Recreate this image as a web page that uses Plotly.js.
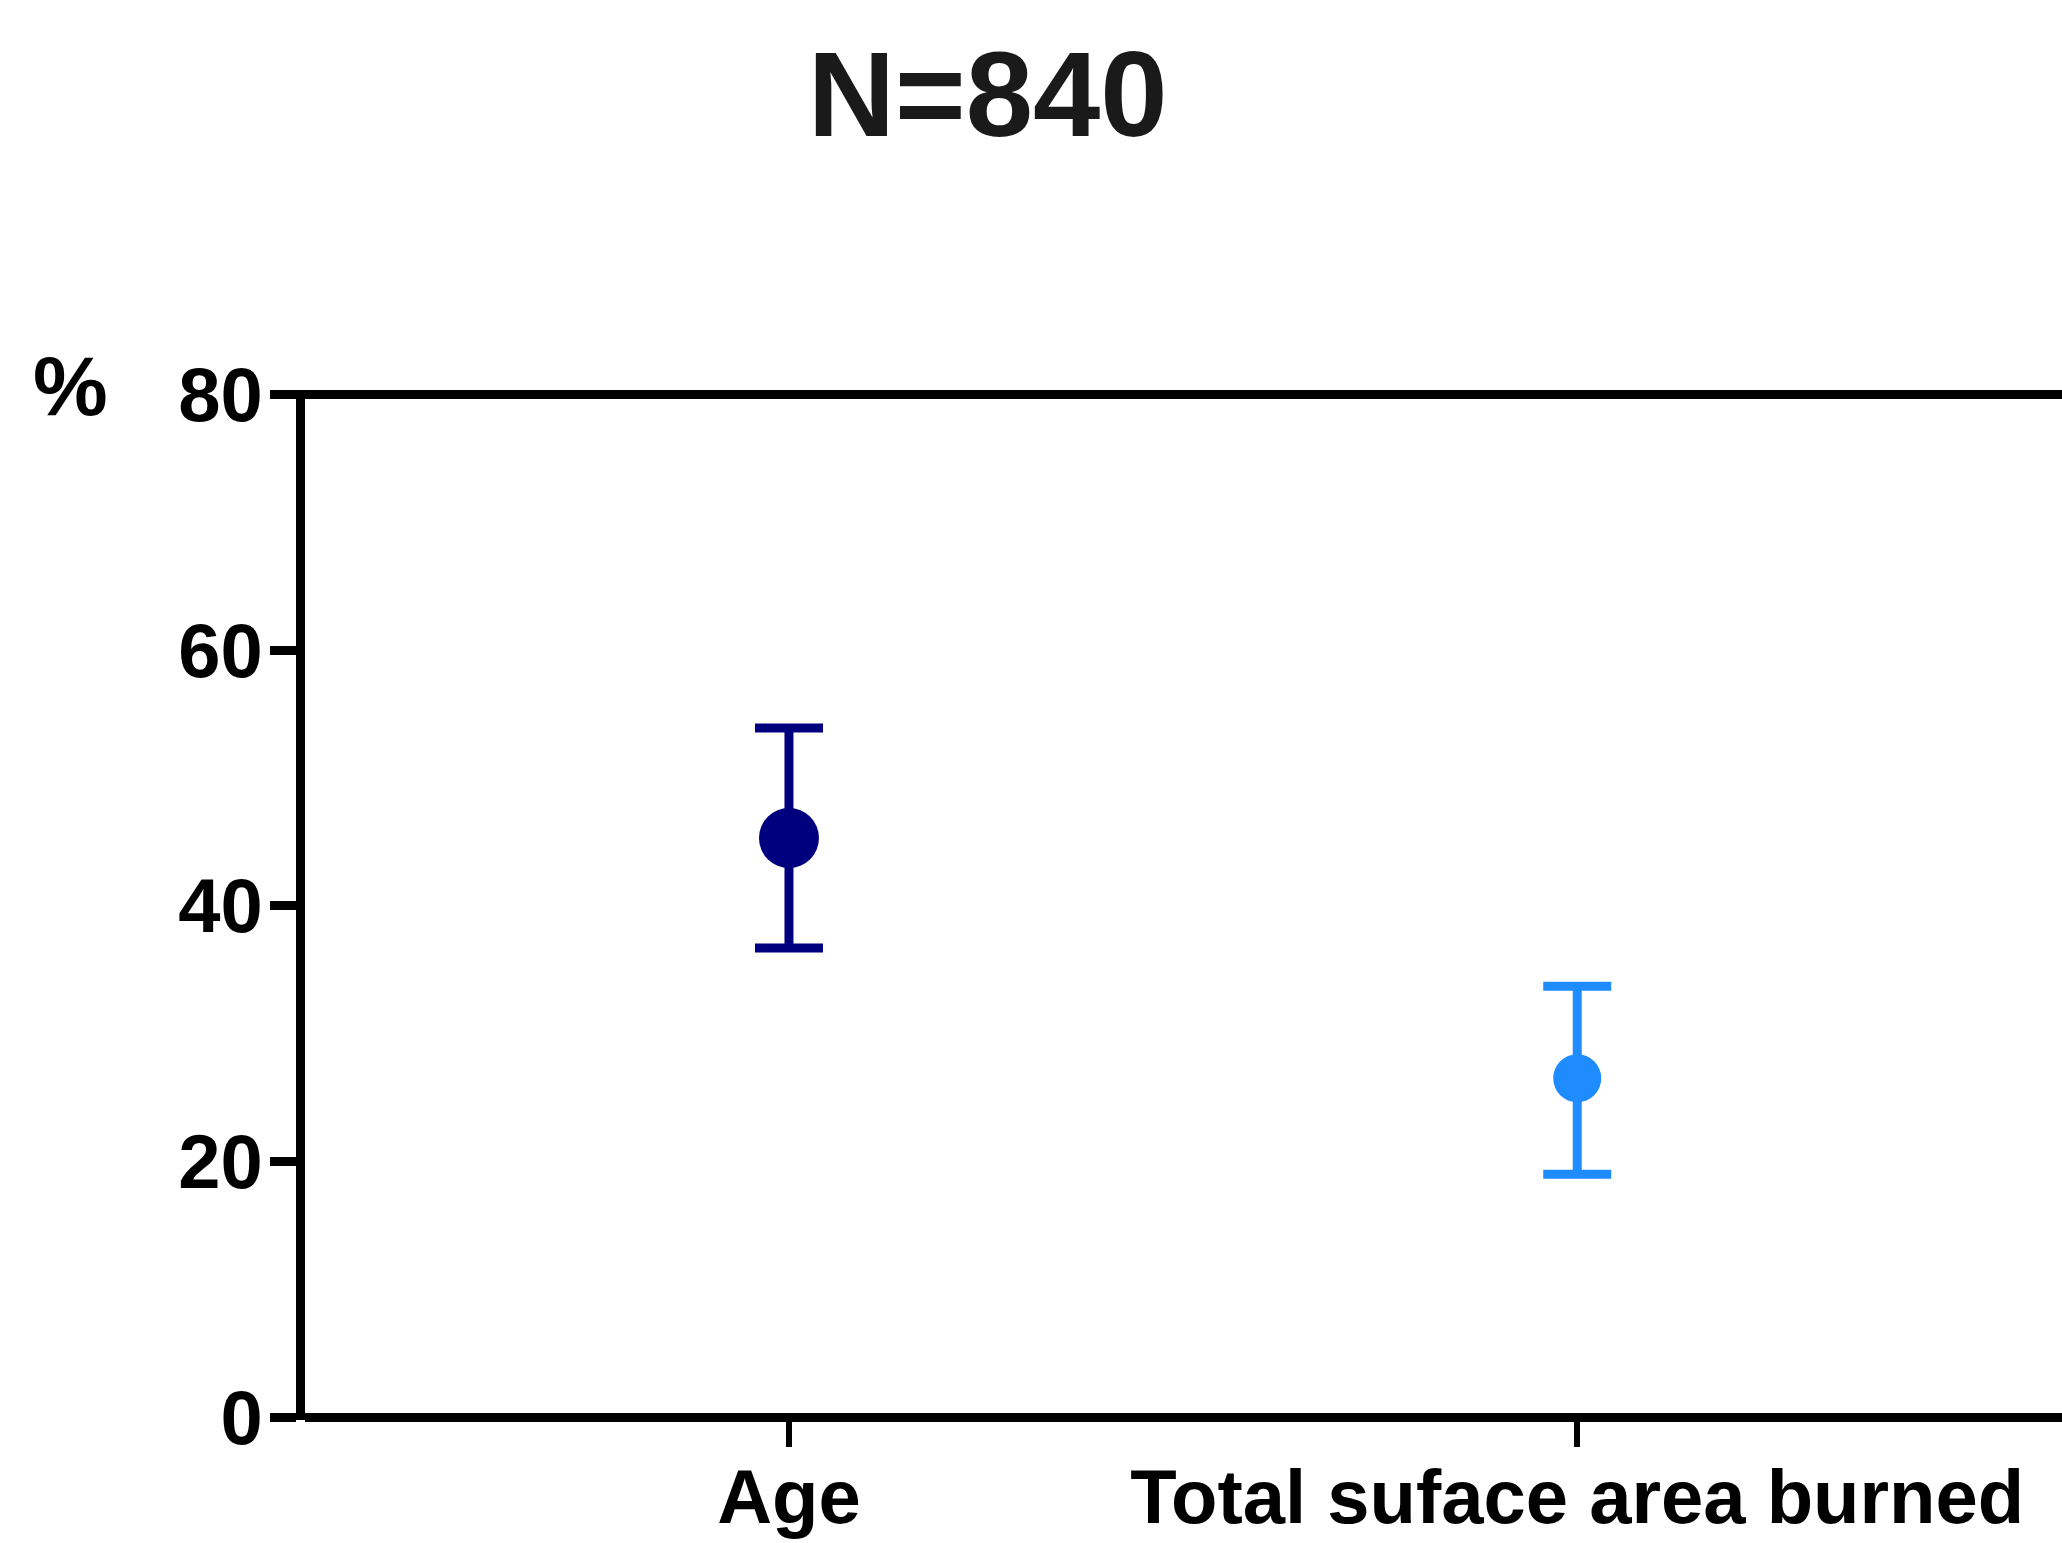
<!DOCTYPE html>
<html>
<head>
<meta charset="utf-8">
<script src="https://cdn.plot.ly/plotly-3.0.1.min.js"></script>
<style>html,body{margin:0;padding:0;background:#fff;}#chart{width:2062px;height:1543px;}</style>
</head>
<body>
<div id="chart"></div>
<script>
// Data
const categories = ["Age", "Total suface area burned"];
const means = [45.3, 26.5];
const upperValues = [53.9, 33.7];
const lowerValues = [36.7, 19.0];
const colors = ["#00007f", "#1e8bff"];
const markerSizes = [60, 48];
const yTickValues = [0, 20, 40, 60, 80];
const yTickLabels = ["0", "20", "40", "60", "80"];
const yMax = 80;
const titleText = "N=840";
const yUnitLabel = "%";

const FONT = "Liberation Sans, Arial, sans-serif";

const traces = categories.map((c, i) => ({
  type: "scatter",
  mode: "markers",
  x: [c],
  y: [means[i]],
  marker: { color: colors[i], size: markerSizes[i], line: { width: 0 } },
  error_y: {
    type: "data",
    symmetric: false,
    array: [upperValues[i] - means[i]],
    arrayminus: [means[i] - lowerValues[i]],
    color: colors[i],
    thickness: 9,
    width: 34
  },
  cliponaxis: false,
  showlegend: false,
  hoverinfo: "skip"
}));

const layout = {
  width: 2062,
  height: 1543,
  paper_bgcolor: "#ffffff",
  plot_bgcolor: "#ffffff",
  margin: { l: 305, r: 0, t: 390, b: 123, pad: 0 },
  font: { family: FONT, color: "#000000" },
  title: {
    text: "<b>" + titleText + "</b>",
    font: { family: FONT, size: 121, color: "#1a1a1a" },
    x: 0.479, xanchor: "center",
    y: 0.939, yanchor: "middle",
    xref: "container", yref: "container"
  },
  xaxis: {
    type: "category",
    categoryorder: "array",
    categoryarray: categories,
    range: [-0.614, 1.615],
    showgrid: false,
    zeroline: false,
    showline: false,
    linewidth: 0,
    ticks: "outside",
    ticklen: 26,
    tickwidth: 6,
    tickcolor: "#000000",
    ticklabelstandoff: -15,
    tickfont: { family: FONT, size: 76, color: "#000000", weight: "bold" },
    fixedrange: true
  },
  yaxis: {
    range: [-0.235, 80.352],
    tickvals: yTickValues,
    ticktext: yTickLabels,
    showgrid: false,
    zeroline: true,
    zerolinecolor: "#000000",
    zerolinewidth: 9,
    showline: true,
    linecolor: "#000000",
    linewidth: 9,
    mirror: false,
    ticks: "outside",
    ticklen: 26,
    tickwidth: 9,
    tickcolor: "#000000",
    ticklabelstandoff: -8,
    tickfont: { family: FONT, size: 76, color: "#000000", weight: "bold" },
    fixedrange: true
  },
  shapes: [{
    type: "line",
    xref: "paper", x0: 0, x1: 1,
    yref: "y", y0: yMax, y1: yMax,
    line: { color: "#000000", width: 9 },
    layer: "above"
  }],
  annotations: [{
    text: "<b>" + yUnitLabel + "</b>",
    xref: "paper", yref: "paper",
    x: -0.1337, y: 1.004,
    xanchor: "center", yanchor: "middle",
    showarrow: false,
    font: { family: FONT, size: 84, color: "#000000" }
  }]
};

Plotly.newPlot("chart", traces, layout, { displayModeBar: false, staticPlot: true });
</script>
</body>
</html>
